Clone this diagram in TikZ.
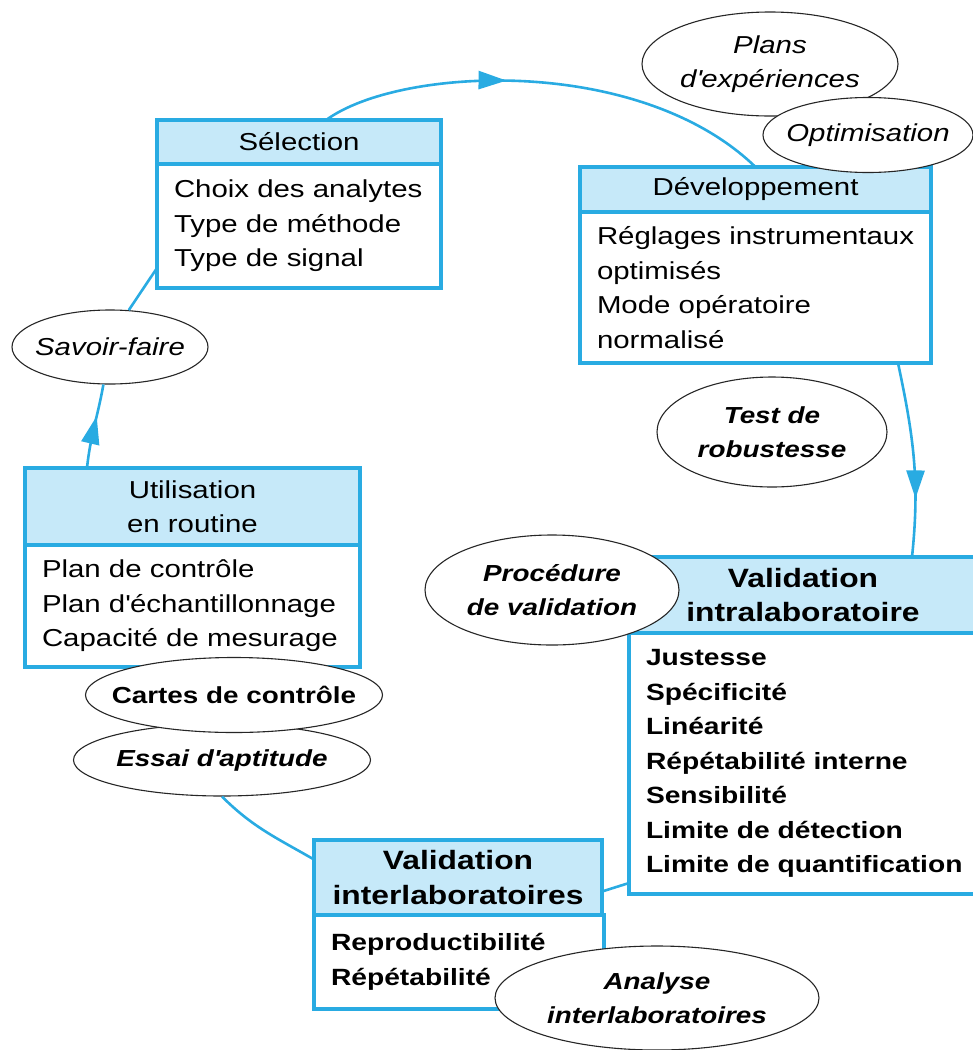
\documentclass[tikz,border=0pt]{standalone}
\usepackage{fontspec}
\setmainfont{Liberation Sans}[FakeStretch=1.2]
\usetikzlibrary{arrows.meta}
\usetikzlibrary{positioning}
\usetikzlibrary{shapes.geometric}
\usetikzlibrary{decorations.markings}
\definecolor{cyanline}{RGB}{41,171,226}
\definecolor{headfill}{RGB}{198,233,249}
\newcommand{\diagfont}{\fontsize{24.5}{34.5}\selectfont}
\newcommand{\headbold}{\fontsize{26.5}{34.5}\selectfont\bfseries}
\newcommand{\bodybold}{\fontsize{23.5}{34.5}\selectfont\bfseries}
\newcommand{\bubblebold}{\fontsize{23.2}{34}\selectfont\bfseries}

\begin{document}
\begin{tikzpicture}[x=1pt,y=1pt,
  head/.style={draw=cyanline,fill=headfill,line width=3.5pt,inner sep=0pt,outer sep=0pt,align=center,anchor=north west,font=\diagfont},
  body/.style={draw=cyanline,fill=white,line width=3.5pt,inner xsep=17pt,inner ysep=0pt,outer sep=0pt,align=left,font=\diagfont,
    execute at begin node={\hyphenpenalty=10000\exhyphenpenalty=10000}},
  bubble/.style={ellipse,draw=black!85,fill=white,line width=1.1pt,inner sep=-30pt,align=center,font=\diagfont\itshape},
  flow/.style={draw=cyanline,line width=2.6pt},
  midtip/.style={postaction={decorate},decoration={markings,mark=at position #1 with {\arrow{Triangle[length=28pt,width=18pt]}}}}]
\useasboundingbox (0,0) rectangle (973,-1050);

% boxes
\node[head,minimum width=284pt,minimum height=44pt] (selH) at (157,-120) {Sélection};
\node[body,text width=250pt,minimum height=124pt,below right=0pt and 0pt of selH.south west] (selB)
  {Choix des analytes\\Type de méthode\\Type de signal};

\node[head,minimum width=351pt,minimum height=45pt] (devH) at (580,-167) {Développement};
\node[body,text width=317pt,minimum height=151pt,below right=0pt and 0pt of devH.south west] (devB)
  {\mbox{Réglages instrumentaux}\\optimisés\\Mode opératoire\\normalisé};

\node[head,minimum width=335pt,minimum height=77pt] (utilH) at (25,-468) {Utilisation\\en routine};
\node[body,text width=301pt,minimum height=122pt,below right=0pt and 0pt of utilH.south west] (utilB)
  {Plan de contrôle\\\mbox{Plan d\textquotesingle{}échantillonnage}\\Capacité de mesurage};

\node[head,minimum width=348pt,minimum height=76pt,font=\headbold] (intraH) at (629,-557) {Validation\\intralaboratoire};
\node[body,text width=316pt,minimum height=261pt,font=\bodybold,below right=0pt and 0pt of intraH.south west] (intraB)
  {Justesse\\Spécificité\\Linéarité\\\mbox{Répétabilité interne}\\Sensibilité\\\mbox{Limite de détection}\\\mbox{Limite de quantification}};

\node[head,minimum width=288pt,minimum height=75pt,font=\headbold] (interH) at (314,-840) {Validation\\interlaboratoires};
\node[body,text width=256pt,minimum height=94pt,font=\bodybold,below right=0pt and 0pt of interH.south west] (interB)
  {Reproductibilité\\Répétabilité};

% cycle
\draw[flow,midtip=0.41] (selH.39) .. controls (400,-66) and (640,-55) .. (devH.north);
\draw[flow,midtip=0.7] ([xshift=-33pt]devB.south east) to[out=-78,in=84] ([xshift=109pt]intraH.north);
\draw[flow] ([yshift=11pt]intraB.south west) -- ([yshift=-14pt]interH.east);

% ellipses
\node[bubble,minimum width=256pt,minimum height=104pt] (plans) at (770,-64) {Plans\\d\textquotesingle{}expériences};
\node[bubble,minimum width=210pt,minimum height=75pt] (optim) at (868,-135) {Optimisation};
\node[bubble,minimum width=196pt,minimum height=74pt] (savoir) at (110,-347) {Savoir-faire};
\node[bubble,minimum width=230pt,minimum height=110pt,font=\bubblebold\itshape] (robust) at (772,-432) {Test de\\robustesse};
\node[bubble,minimum width=254pt,minimum height=110pt,font=\bubblebold\itshape] (proc) at (552,-590) {Procédure\\de validation};
\node[bubble,minimum width=297pt,minimum height=72pt,font=\bubblebold\itshape] (essai) at (222,-760) {Essai d\textquotesingle{}aptitude};
\node[bubble,minimum width=297pt,minimum height=75pt,font=\bubblebold] (cartes) at (234,-695) {Cartes de contrôle};
\node[bubble,minimum width=324pt,minimum height=104pt,font=\bubblebold\itshape] (analyse) at (657,-998) {Analyse\\interlaboratoires};

\draw[flow] ([yshift=18pt]interH.west) to[out=150,in=-45] (essai.south);
\draw[flow,midtip=0.62] ([xshift=62pt]utilH.north west) to[out=84,in=-100] (savoir.-100);
\draw[flow] (savoir.63) -- ([yshift=-42pt]selB.west);
\end{tikzpicture}
\end{document}
